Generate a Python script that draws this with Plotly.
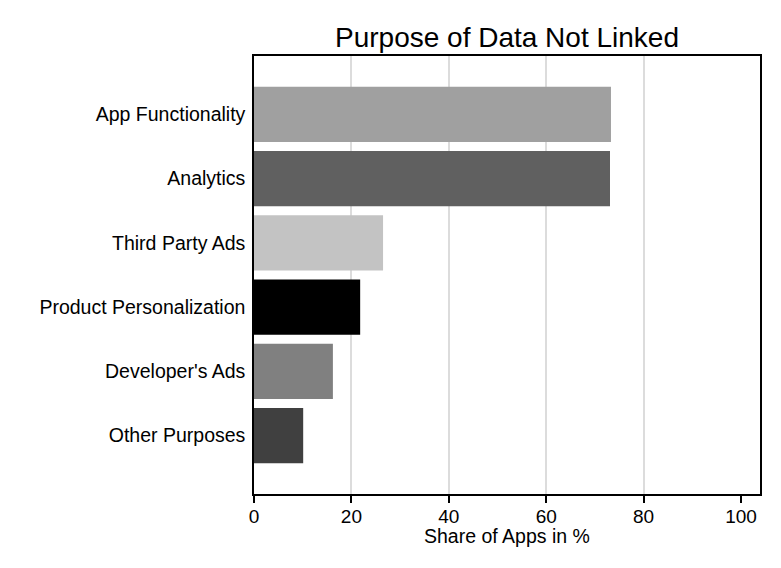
import plotly.graph_objects as go

categories = ["App Functionality", "Analytics", "Third Party Ads",
              "Product Personalization", "Developer's Ads", "Other Purposes"]
values = [73.3, 73.1, 26.5, 21.8, 16.2, 10.1]
colors = ["#a0a0a0", "#606060", "#c3c3c3", "#000000", "#808080", "#404040"]
x_ticks = [0, 20, 40, 60, 80, 100]
grid_vals = [20, 40, 60, 80]

font = "Liberation Sans, Arial, sans-serif"

fig = go.Figure()
fig.add_trace(go.Bar(
    y=categories, x=values, orientation="h",
    marker=dict(color=colors, line=dict(width=0)),
    width=0.86, showlegend=False, hoverinfo="x+y",
))
fig.add_trace(go.Scatter(x=[0], y=[categories[0]], xaxis="x2", mode="markers",
                         marker=dict(opacity=0), showlegend=False, hoverinfo="skip"))

fig.update_layout(
    width=781, height=568,
    margin=dict(l=246, r=29, t=48, b=82),
    paper_bgcolor="white", plot_bgcolor="white",
    font=dict(family=font, size=19.5, color="black"),
    title=dict(text="Purpose of Data Not Linked", x=0.5, xanchor="center",
               xref="paper", y=0.949, yanchor="middle",
               font=dict(size=28, family=font, color="black")),
    xaxis=dict(range=[0, 103.9], tickvals=x_ticks, showgrid=False, zeroline=False,
               showline=True, linecolor="black", linewidth=2, mirror=True,
               ticks="outside", ticklen=7, tickwidth=1.5, tickcolor="black",
               ticklabelstandoff=-3,
               tickfont=dict(size=19), layer="above traces"),
    xaxis2=dict(range=[0, 103.9], tickvals=grid_vals, overlaying="x", side="bottom",
                showgrid=True, gridcolor="#dcdcdc", gridwidth=2, showticklabels=False,
                ticks="", zeroline=False, showline=False, layer="below traces"),
    yaxis=dict(categoryorder="array", categoryarray=categories[::-1],
               range=[-0.91, 5.91], showgrid=False, zeroline=False,
               showline=True, linecolor="black", linewidth=1.5, mirror=True,
               ticks="outside", ticklen=3, tickcolor="rgba(0,0,0,0)",
               tickfont=dict(size=19.5)),
    annotations=[dict(text="Share of Apps in %", x=0.5, xref="paper", y=0, yref="paper",
                      xanchor="center", yanchor="middle", yshift=-42, showarrow=False,
                      font=dict(size=19.5, family=font, color="black"))],
)

fig.write_html("out.html")
